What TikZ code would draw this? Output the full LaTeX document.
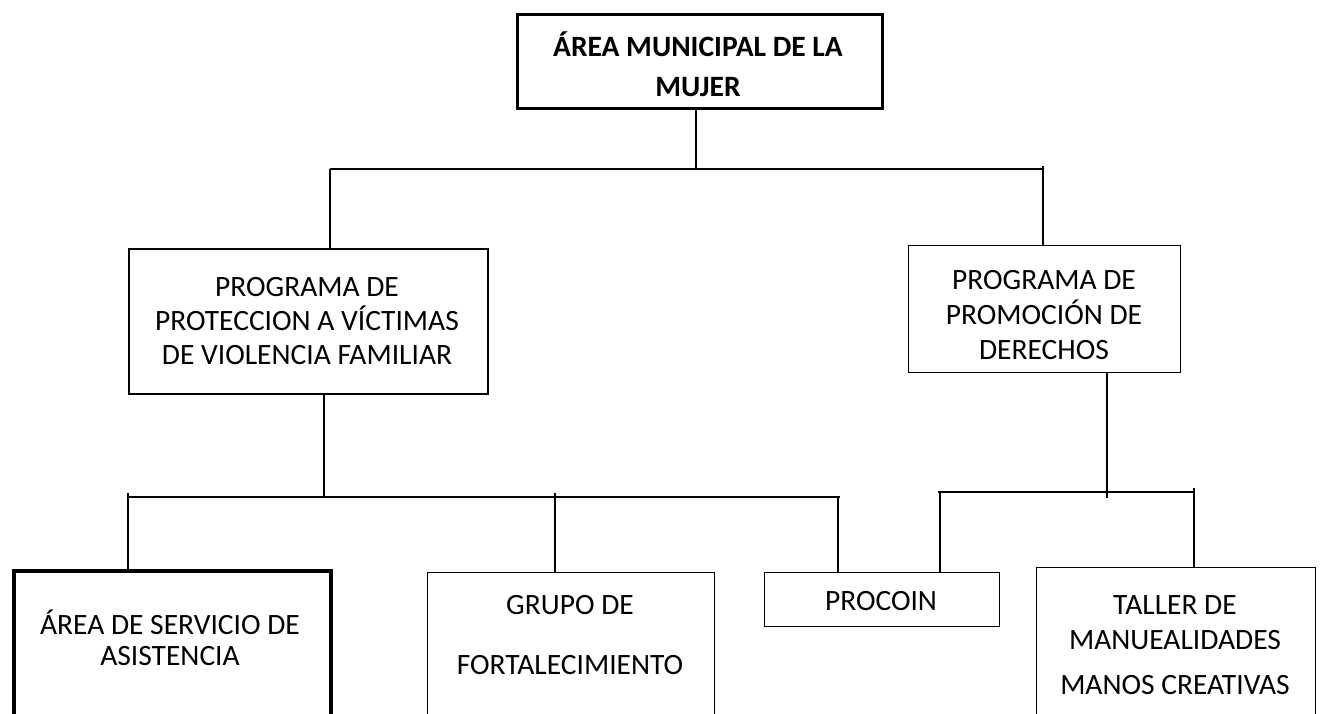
\documentclass[tikz,border=0pt]{standalone}
\usepackage{fontspec}
\setmainfont{Carlito}
\begin{document}
\begin{tikzpicture}[x=1pt,y=-1pt,
  box/.style={draw=black,rectangle,inner sep=0pt,anchor=north west,line width=1.2pt},
  txt/.style={align=center,inner sep=0pt,font=\fontsize{29.5}{34}\selectfont},
  conn/.style={draw=black,line width=1.2pt}]
\useasboundingbox (0,0) rectangle (1320,713);
\clip (0,0) rectangle (1320,713);
% boxes
\node[box,line width=3pt,minimum width=365pt,minimum height=94pt] (top) at (516,13) {};
\node[box,line width=2.4pt,minimum width=359pt,minimum height=145pt] (prog1) at (128,248) {};
\node[box,minimum width=272pt,minimum height=127pt] (prog2) at (908,245) {};
\node[box,line width=4pt,minimum width=317pt,minimum height=200pt] (area) at (12,569) {};
\node[box,minimum width=287pt,minimum height=200pt] (grupo) at (427,572) {};
\node[box,minimum width=235pt,minimum height=54pt] (procoin) at (764,572) {};
\node[box,minimum width=279pt,minimum height=200pt] (taller) at (1036,567) {};
% texts
\node[txt,font=\fontsize{29.5}{40}\selectfont\bfseries] (ttop) at (698,64) {ÁREA MUNICIPAL DE LA\\MUJER};
\node[txt] (tprog1) at (307,321) {PROGRAMA DE\\PROTECCION A VÍCTIMAS\\DE VIOLENCIA FAMILIAR};
\node[txt,font=\fontsize{29.5}{35}\selectfont] (tprog2) at (1044,315) {PROGRAMA DE\\PROMOCIÓN DE\\DERECHOS};
\node[txt,font=\fontsize{29.5}{31}\selectfont] (tarea) at (170,638) {ÁREA DE SERVICIO DE\\ASISTENCIA};
\node[txt,font=\fontsize{29.5}{60}\selectfont] (tgrupo) at (570,635) {GRUPO DE\\FORTALECIMIENTO};
\node[txt] (tprocoin) at (881,601) {PROCOIN};
\node[txt,font=\fontsize{29.5}{35}\selectfont] (ttaller) at (1175,645) {TALLER DE\\MANUEALIDADES\\[10pt]MANOS CREATIVAS};
% coordinates
\coordinate (t1) at (696,169);
\coordinate (hL) at (330,169);
\coordinate (hR) at (1043,169);
\coordinate (hRt) at (1043,166);
\coordinate (b1) at (324,497);
\coordinate (h2L) at (128,497);
\coordinate (h2Lt) at (128,493);
\coordinate (h2R) at (840,497);
\coordinate (g1) at (555,493);
\coordinate (p1) at (838,497);
\coordinate (b2) at (1107,498);
\coordinate (h3L) at (938,492);
\coordinate (h3R) at (1195,492);
\coordinate (p2) at (940,492);
\coordinate (ta) at (1194,488);
% connectors
\draw[conn] (t1 |- top.south) -- (t1);
\draw[conn] (hL) -- (hR);
\draw[conn] (hL) -- (hL |- prog1.north);
\draw[conn] (hRt) -- (hRt |- prog2.north);
\draw[conn] (b1 |- prog1.south) -- (b1);
\draw[conn] (h2L) -- (h2R);
\draw[conn] (h2Lt) -- (h2Lt |- area.north);
\draw[conn] (g1) -- (g1 |- grupo.north);
\draw[conn] (p1) -- (p1 |- procoin.north);
\draw[conn] (b2 |- prog2.south) -- (b2);
\draw[conn] (h3L) -- (h3R);
\draw[conn] (p2) -- (p2 |- procoin.north);
\draw[conn] (ta) -- (ta |- taller.north);
\end{tikzpicture}
\end{document}
